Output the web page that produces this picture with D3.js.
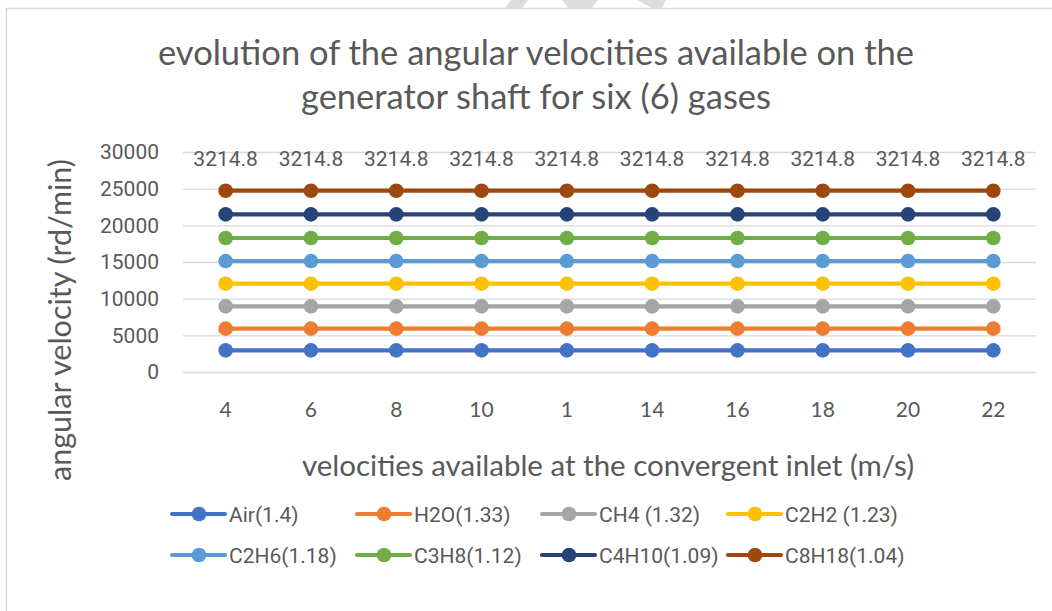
<!DOCTYPE html>
<html>
<head>
<meta charset="UTF-8" />
<script src="https://cdn.jsdelivr.net/npm/d3@7"></script>
<title>Angular velocities</title>
<style>
  body { margin: 0; background: #fff; }
  text { fill: #595959; }
</style>
</head>
<body>
<script>

// categories on the x axis (as printed in the source, "1" included)
var categories = ["4", "6", "8", "10", "1", "14", "16", "18", "20", "22"];

// series names and their (constant) values
var seriesNames = ["Air(1.4)", "H2O(1.33)", "CH4 (1.32)", "C2H2 (1.23)",
                   "C2H6(1.18)", "C3H8(1.12)", "C4H10(1.09)", "C8H18(1.04)"];
var airVals   = [2950, 2950, 2950, 2950, 2950, 2950, 2950, 2950, 2950, 2950];
var h2oVals   = [5910, 5910, 5910, 5910, 5910, 5910, 5910, 5910, 5910, 5910];
var ch4Vals   = [8950, 8950, 8950, 8950, 8950, 8950, 8950, 8950, 8950, 8950];
var c2h2Vals  = [12040, 12040, 12040, 12040, 12040, 12040, 12040, 12040, 12040, 12040];
var c2h6Vals  = [15130, 15130, 15130, 15130, 15130, 15130, 15130, 15130, 15130, 15130];
var c3h8Vals  = [18270, 18270, 18270, 18270, 18270, 18270, 18270, 18270, 18270, 18270];
var c4h10Vals = [21490, 21490, 21490, 21490, 21490, 21490, 21490, 21490, 21490, 21490];
var c8h18Vals = [24720, 24720, 24720, 24720, 24720, 24720, 24720, 24720, 24720, 24720];
var dataLabels = ["3214.8", "3214.8", "3214.8", "3214.8", "3214.8",
                  "3214.8", "3214.8", "3214.8", "3214.8", "3214.8"];
var yTicks = [0, 5000, 10000, 15000, 20000, 25000, 30000];
var colors = ["#4472C4", "#ED7D31", "#A5A5A5", "#FFC000",
              "#5B9BD5", "#70AD47", "#264478", "#9E480E"];

var allSeries = [airVals, h2oVals, ch4Vals, c2h2Vals, c2h6Vals, c3h8Vals, c4h10Vals, c8h18Vals];

var W = 1052, H = 611;
var plot = {left: 183, right: 1036, top: 152, bottom: 372};

var svg = d3.select("body").append("svg")
    .attr("width", W)
    .attr("height", H);

// faint watermark bits peeking over the top edge
var wm = [[[505,8],[511,0],[528,0],[522,8]],
          [[562,0],[598,0],[592,8],[568,8]],
          [[637,0],[666,0],[662,8],[652,8]]];
svg.selectAll("polygon.wm").data(wm).enter().append("polygon")
    .attr("class", "wm")
    .attr("points", function(d){ return d.map(function(p){ return p.join(","); }).join(" "); })
    .attr("fill", "#dcdcdc");

// chart border
svg.append("rect")
    .attr("x", 6.5).attr("y", 8.5)
    .attr("width", W + 10).attr("height", H + 10)
    .attr("fill", "#fff")
    .attr("stroke", "#d9d9d9")
    .attr("stroke-width", 1.5);

var x = d3.scaleBand().domain(categories).range([plot.left, plot.right]);
var y = d3.scaleLinear().domain([0, 30000]).range([plot.bottom, plot.top]);

// gridlines + y labels
var yAxis = svg.append("g")
    .attr("transform", "translate(" + plot.left + ",0)")
    .call(d3.axisLeft(y).tickValues(yTicks).tickFormat(d3.format("d"))
      .tickSize(-(plot.right - plot.left)).tickPadding(24));
yAxis.select(".domain").remove();
yAxis.selectAll(".tick line").attr("stroke", "#d9d9d9").attr("stroke-width", 1.3);
yAxis.selectAll(".tick text")
    .style("font-family", "Roboto, sans-serif")
    .style("font-size", "21px")
    .attr("fill", "#595959");

// x labels
var xAxis = svg.append("g")
    .attr("transform", "translate(0," + plot.bottom + ")")
    .call(d3.axisBottom(x).tickSize(0).tickPadding(30));
xAxis.select(".domain").remove();
xAxis.selectAll(".tick text")
    .style("font-family", "Lato, sans-serif")
    .style("font-size", "21px")
    .attr("fill", "#595959");

// series lines and markers
var line = d3.line()
    .x(function(d, i){ return x(categories[i]) + x.bandwidth() / 2; })
    .y(function(d){ return y(d); });

allSeries.forEach(function(vals, s) {
  var g = svg.append("g");
  g.append("path")
      .attr("d", line(vals))
      .attr("fill", "none")
      .attr("stroke", colors[s])
      .attr("stroke-width", 4.2)
      .attr("stroke-linecap", "round");
  g.selectAll("circle").data(vals).enter().append("circle")
      .attr("cx", function(d, i){ return x(categories[i]) + x.bandwidth() / 2; })
      .attr("cy", function(d){ return y(d); })
      .attr("r", 7.3)
      .attr("fill", colors[s]);
});

// data labels along the top
svg.selectAll("text.dl").data(dataLabels).enter().append("text")
    .attr("class", "dl")
    .attr("x", function(d, i){ return x(categories[i]) + x.bandwidth() / 2; })
    .attr("y", 166)
    .attr("text-anchor", "middle")
    .style("font-family", "Roboto, sans-serif")
    .style("font-size", "21px")
    .text(function(d){ return d; });

// title
var title = svg.append("text")
    .attr("text-anchor", "middle")
    .style("font-family", "Lato, sans-serif")
    .style("font-size", "34.5px");
title.append("tspan").attr("x", 536).attr("y", 65)
    .text("evolution of the angular velocities available on the");
title.append("tspan").attr("x", 536).attr("y", 109)
    .text("generator shaft for six (6) gases");

// axis titles
svg.append("text")
    .attr("x", 608).attr("y", 476)
    .attr("text-anchor", "middle")
    .style("font-family", "Lato, sans-serif")
    .style("font-size", "29.5px")
    .text("velocities available at the convergent inlet (m/s)");

svg.append("text")
    .attr("transform", "translate(71,320) rotate(-90)")
    .attr("text-anchor", "middle")
    .style("font-family", "Lato, sans-serif")
    .style("font-size", "30.5px")
    .text("angular velocity (rd/min)");

// legend
var legX = [172, 357, 542, 728];
var legY = [514, 555];
seriesNames.forEach(function(name, s) {
  var lx = legX[s % 4], ly = legY[Math.floor(s / 4)];
  var g = svg.append("g").attr("transform", "translate(" + lx + "," + ly + ")");
  g.append("line")
      .attr("x1", 0).attr("x2", 53)
      .attr("y1", 0).attr("y2", 0)
      .attr("stroke", colors[s])
      .attr("stroke-width", 4.2)
      .attr("stroke-linecap", "round");
  g.append("circle").attr("cx", 27).attr("cy", 0).attr("r", 7.3).attr("fill", colors[s]);
  g.append("text")
      .attr("x", 57).attr("y", 7.5)
      .style("font-family", "Roboto, sans-serif")
      .style("font-size", "21px")
      .text(name);
});

</script>
</body>
</html>
